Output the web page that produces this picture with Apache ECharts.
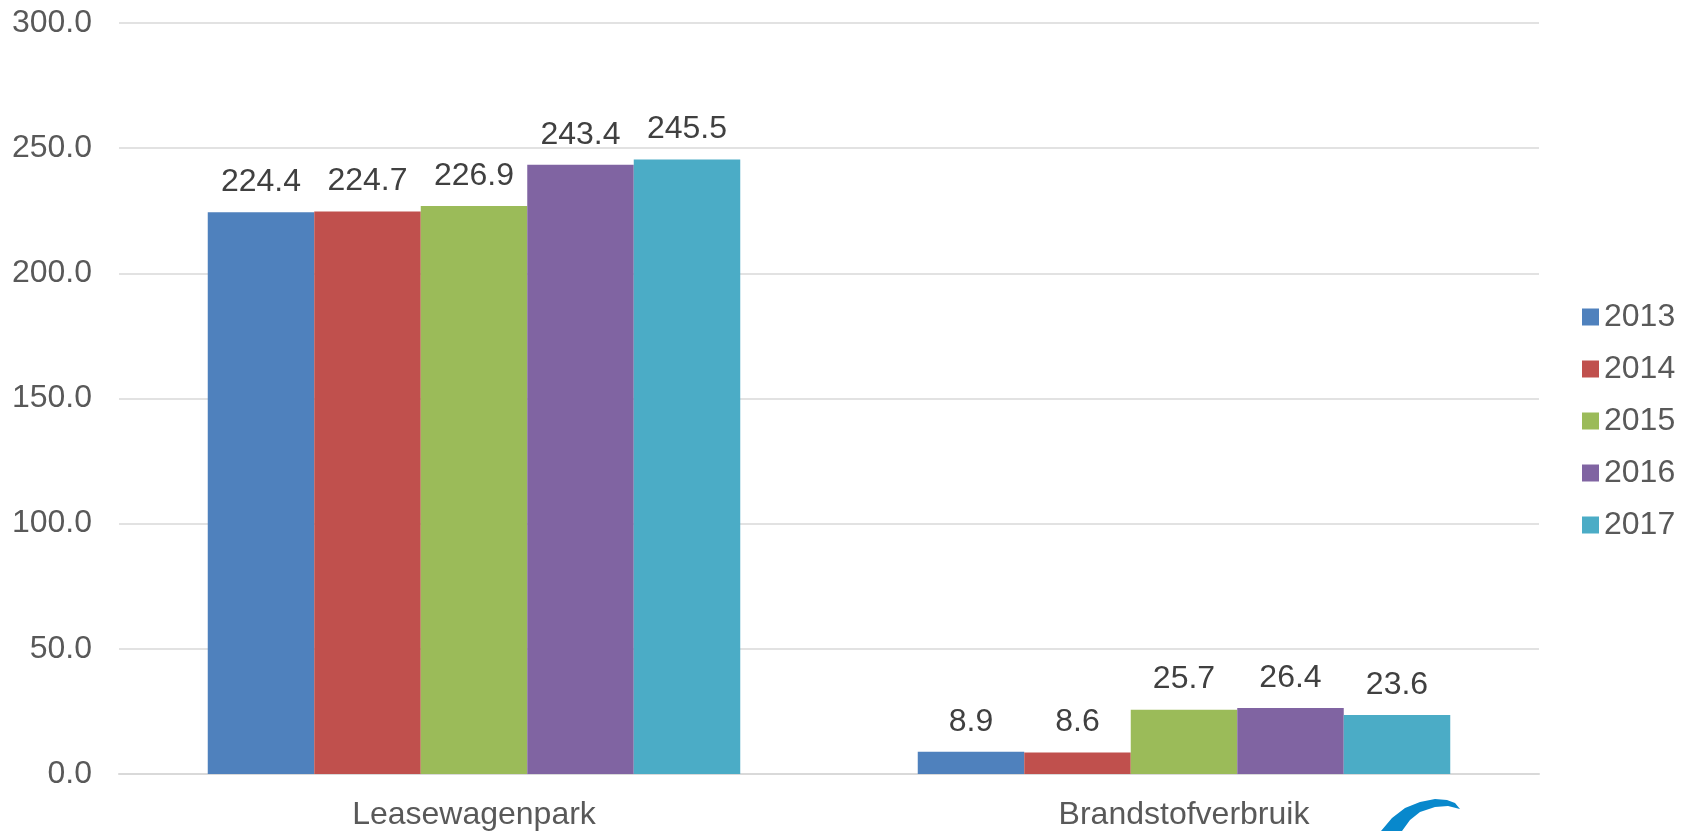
<!DOCTYPE html>
<html>
<head>
<meta charset="utf-8">
<title>Leasewagenpark</title>
<script src="https://cdn.jsdelivr.net/npm/echarts@6/dist/echarts.min.js"></script>
<style>
    html, body { margin: 0; padding: 0; background: #ffffff; }
    #chartDiv { width: 1699px; height: 831px; }
</style>
</head>
<body>
<div id="chartDiv"></div>
<script>
// data
var categories = ["Leasewagenpark", "Brandstofverbruik"];
var years = ["2013", "2014", "2015", "2016", "2017"];
var values2013 = [224.4, 8.9];
var values2014 = [224.7, 8.6];
var values2015 = [226.9, 25.7];
var values2016 = [243.4, 26.4];
var values2017 = [245.5, 23.6];
var yearValues = [values2013, values2014, values2015, values2016, values2017];
var colors = ["#4F81BD", "#C0504D", "#9BBB59", "#8064A2", "#4BACC6"];

var fontName = "Liberation Sans, Arial, sans-serif";
var chartDiv = echarts.init(document.getElementById('chartDiv'));

var seriesList = [];
for (var i = 0; i < years.length; i++) {
    seriesList.push({
        name: years[i],
        type: 'bar',
        data: yearValues[i],
        barGap: '0%',
        barCategoryGap: '25%',
        itemStyle: {color: colors[i]},
        label: {
            show: true,
            position: 'top',
            distance: 14,
            color: '#404040',
            fontSize: 32,
            fontFamily: fontName,
            formatter: function (p) {
                return p.value.toFixed(1);
            }
        }
    });
}

var option = {
    animation: false,
    grid: {left: 119, right: 160, top: 23, bottom: 57},
    legend: {
        orient: 'vertical',
        left: 1582,
        top: 301,
        padding: 0,
        itemWidth: 17,
        itemHeight: 17,
        itemGap: 20,
        icon: 'rect',
        data: years,
        textStyle: {color: '#595959', fontSize: 32, fontFamily: fontName}
    },
    xAxis: {
        type: 'category',
        data: categories,
        axisTick: {show: false},
        axisLine: {lineStyle: {color: '#d9d9d9', width: 2}},
        axisLabel: {color: '#595959', fontSize: 32, fontFamily: fontName, margin: 25}
    },
    yAxis: {
        type: 'value',
        min: 0,
        max: 300,
        interval: 50,
        axisLine: {show: false},
        axisTick: {show: false},
        splitLine: {lineStyle: {color: '#d9d9d9', width: 1.5}},
        axisLabel: {
            color: '#595959',
            fontSize: 32,
            fontFamily: fontName,
            margin: 27,
            formatter: function (v) {
                return v.toFixed(1);
            }
        }
    },
    // logo swoosh, cut off at the bottom
    graphic: [{
        type: 'polygon',
        shape: {
            points: [[1381, 831], [1392, 818], [1405, 808], [1420, 802], [1435, 799], [1447, 800],
                [1455, 803], [1460, 809], [1448, 806], [1435, 807], [1420, 812], [1410, 820], [1402, 831]]
        },
        style: {fill: '#0888CC'}
    }],
    series: seriesList
};

chartDiv.setOption(option);
</script>
</body>
</html>
